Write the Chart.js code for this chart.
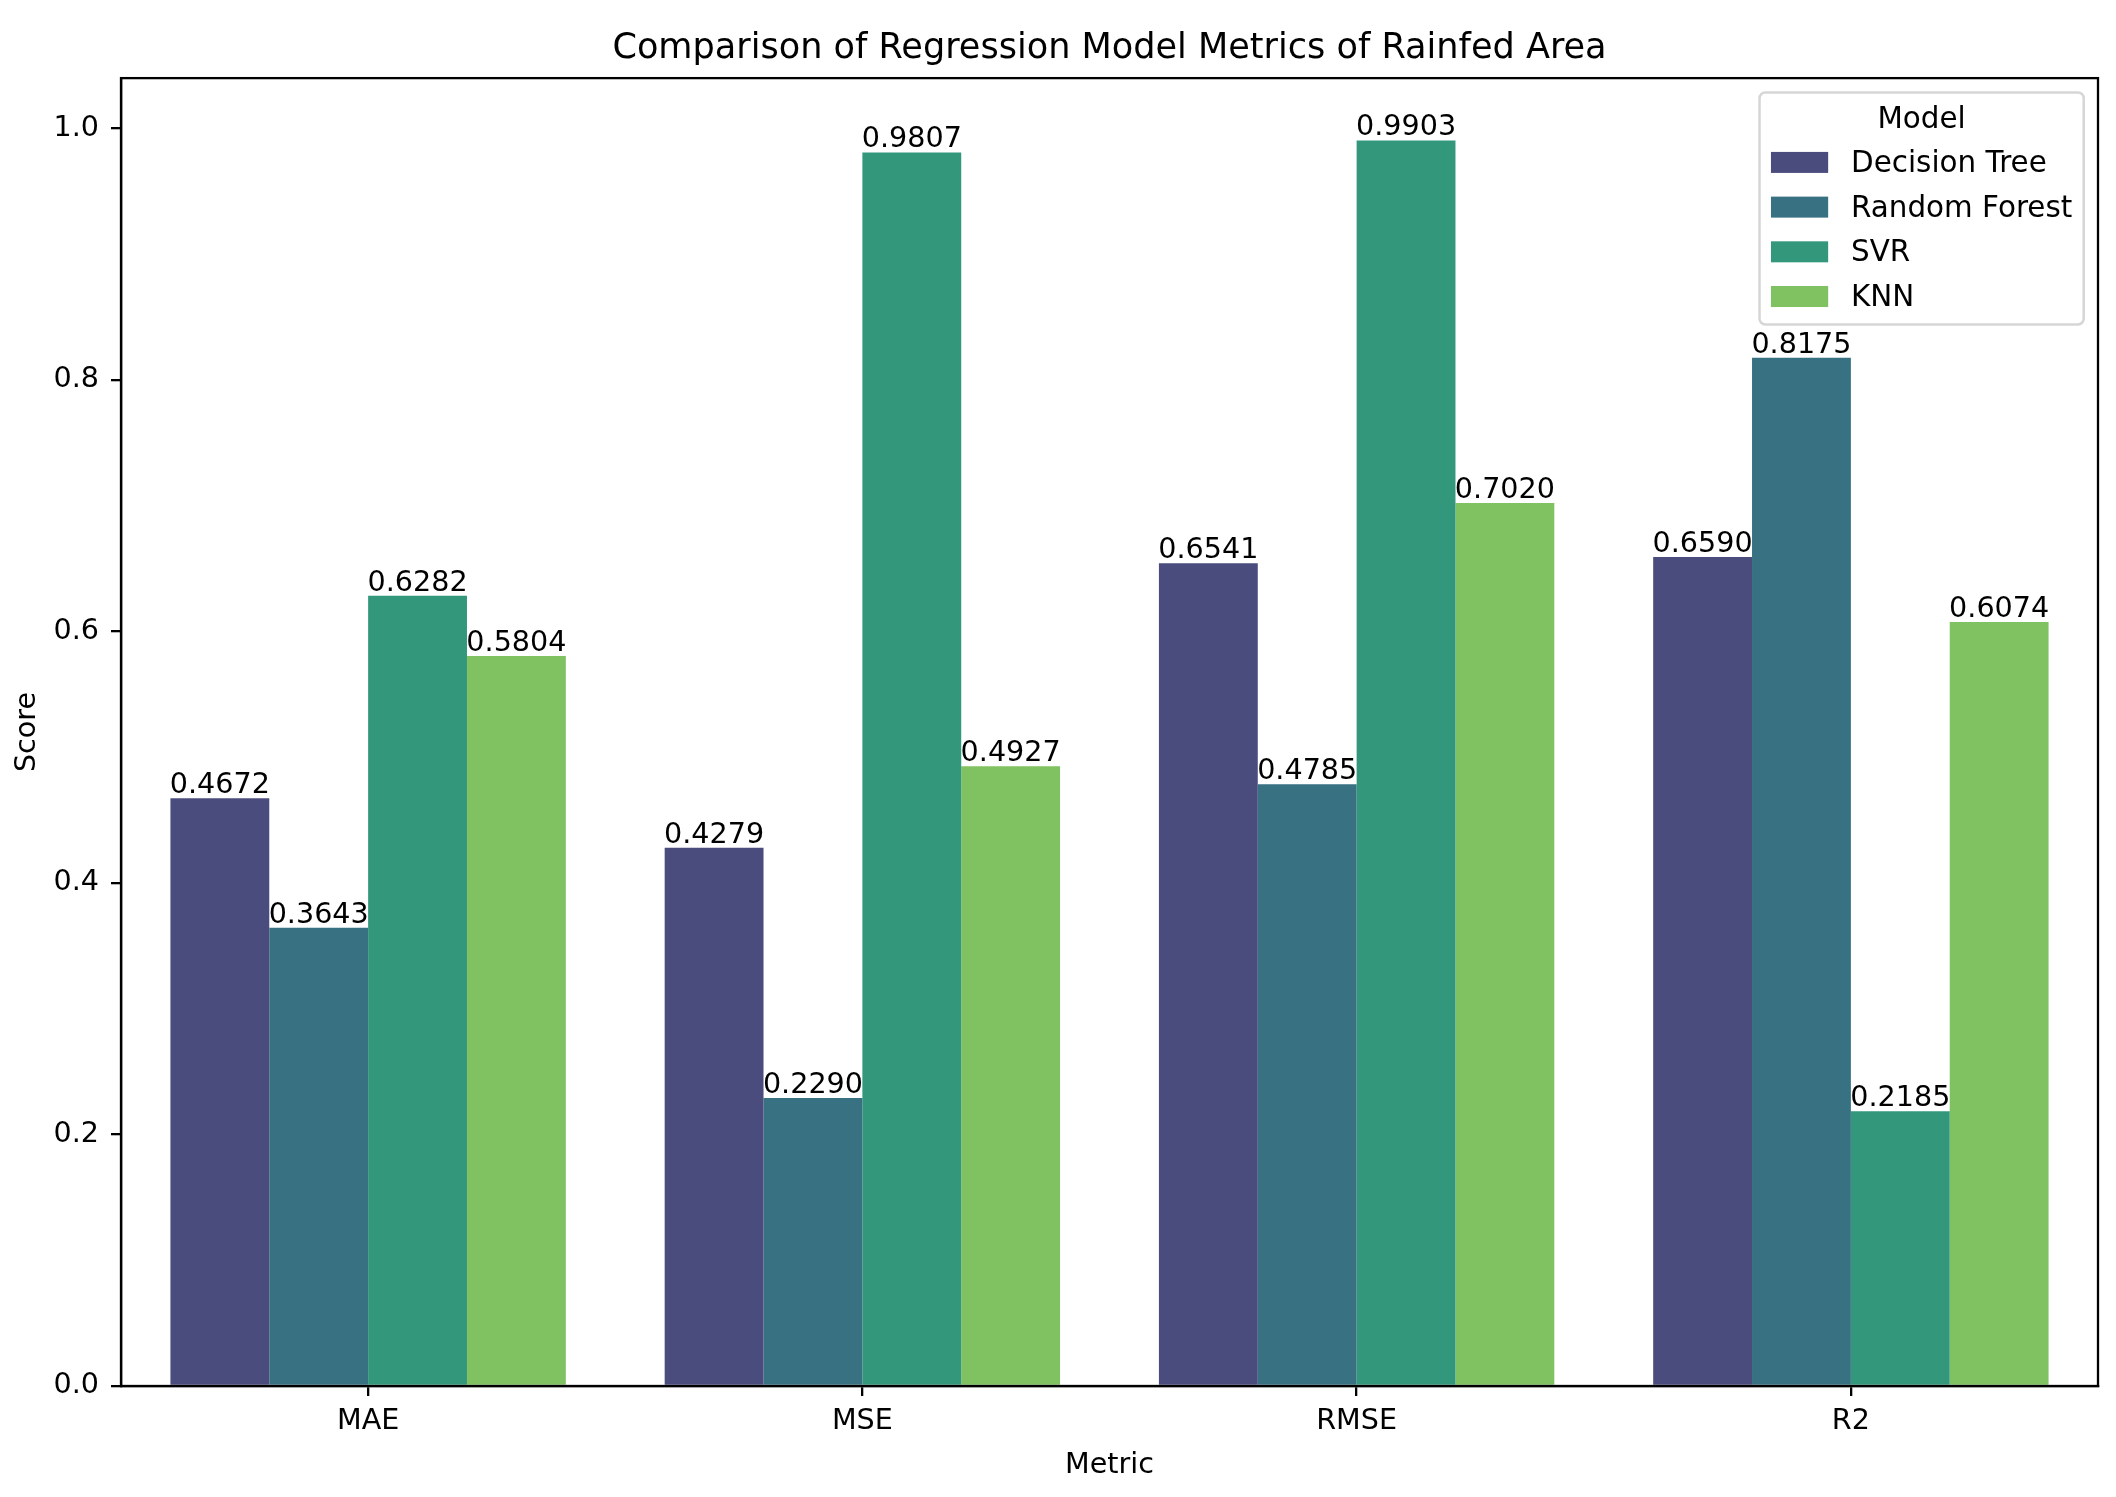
<!DOCTYPE html>
<html>
<head>
<meta charset="utf-8">
<script src="https://cdn.jsdelivr.net/npm/chart.js@4/dist/chart.umd.min.js"></script>
<style>
  html, body { margin: 0; padding: 0; background: #fff; }
  #wrap { width: 2116px; height: 1497px; }
</style>
</head>
<body>
<div id="wrap"><canvas id="c" width="2116" height="1497"></canvas></div>
<script>
const chartTitle = 'Comparison of Regression Model Metrics of Rainfed Area';
const xTitle = 'Metric';
const yTitle = 'Score';
const legendTitle = 'Model';
const categories = ['MAE', 'MSE', 'RMSE', 'R2'];
const models = ['Decision Tree', 'Random Forest', 'SVR', 'KNN'];
const decisionTree = [0.4672, 0.4279, 0.6541, 0.6590];
const randomForest = [0.3643, 0.2290, 0.4785, 0.8175];
const svr = [0.6282, 0.9807, 0.9903, 0.2185];
const knn = [0.5804, 0.4927, 0.7020, 0.6074];
const yTicks = [0.0, 0.2, 0.4, 0.6, 0.8, 1.0];
const yMin = 0;
const yMax = 1.0398;
const modelColors = ['#4a4c7e', '#377182', '#33977c', '#80c161'];

const FONT = "'DejaVu Sans', 'Liberation Sans', sans-serif";
const FS = 28.6;
const LFS = 29.4;
const LW = 2.3;

const seriesValues = [decisionTree, randomForest, svr, knn];

const spinesPlugin = {
  id: 'spines',
  afterDatasetsDraw(chart) {
    const {ctx, chartArea: a} = chart;
    ctx.save();
    ctx.strokeStyle = '#000';
    ctx.lineWidth = LW;
    ctx.strokeRect(a.left, a.top, a.right - a.left, a.bottom - a.top);
    ctx.restore();
  }
};

const barLabelPlugin = {
  id: 'barLabels',
  afterDatasetsDraw(chart) {
    const {ctx} = chart;
    ctx.save();
    ctx.font = FS + 'px ' + FONT;
    ctx.fillStyle = '#000';
    ctx.textAlign = 'center';
    ctx.textBaseline = 'alphabetic';
    chart.data.datasets.forEach((ds, i) => {
      const meta = chart.getDatasetMeta(i);
      meta.data.forEach((bar, j) => {
        ctx.fillText(Number(ds.data[j]).toFixed(4), bar.x, bar.y - 5);
      });
    });
    ctx.restore();
  }
};

const legendPlugin = {
  id: 'boxLegend',
  afterDraw(chart) {
    const {ctx, chartArea: a} = chart;
    const bp = 0.4 * FS, hl = 2.0 * FS, htp = 0.8 * FS, pad = 0.5 * FS;
    ctx.save();
    ctx.font = LFS + 'px ' + FONT;
    let maxW = ctx.measureText(legendTitle).width;
    chart.data.datasets.forEach(ds => { maxW = Math.max(maxW, ctx.measureText(ds.label).width); });
    const w = 2 * bp + hl + htp + maxW;
    const right = a.right - pad;
    const top = a.top + pad;
    const left = right - w;
    const rowH = 44.7;
    const h = 232;
    const r = 0.2 * FS;
    ctx.beginPath();
    ctx.moveTo(left + r, top);
    ctx.lineTo(right - r, top);
    ctx.arcTo(right, top, right, top + r, r);
    ctx.lineTo(right, top + h - r);
    ctx.arcTo(right, top + h, right - r, top + h, r);
    ctx.lineTo(left + r, top + h);
    ctx.arcTo(left, top + h, left, top + h - r, r);
    ctx.lineTo(left, top + r);
    ctx.arcTo(left, top, left + r, top, r);
    ctx.closePath();
    ctx.fillStyle = 'rgba(255,255,255,0.8)';
    ctx.fill();
    ctx.strokeStyle = '#d6d6d6';
    ctx.lineWidth = 2.5;
    ctx.stroke();
    ctx.fillStyle = '#000';
    ctx.textBaseline = 'middle';
    ctx.textAlign = 'center';
    ctx.fillText(legendTitle, left + w / 2, top + 28);
    ctx.textAlign = 'left';
    chart.data.datasets.forEach((ds, i) => {
      const cy = top + 70 + i * rowH;
      ctx.fillStyle = ds.backgroundColor;
      ctx.fillRect(left + bp, cy - 10.5, hl, 21);
      ctx.fillStyle = '#000';
      ctx.fillText(ds.label, left + bp + hl + htp, cy + 2);
    });
    ctx.restore();
  }
};

new Chart(document.getElementById('c'), {
  type: 'bar',
  data: {
    labels: categories,
    datasets: models.map((m, i) => ({
      label: m,
      data: seriesValues[i],
      backgroundColor: modelColors[i],
      borderWidth: 0,
      categoryPercentage: 0.8,
      barPercentage: 1.0
    }))
  },
  options: {
    responsive: false,
    animation: false,
    devicePixelRatio: 1,
    layout: { padding: { top: 0, right: 18, left: 0, bottom: 0 } },
    plugins: {
      legend: { display: false },
      tooltip: { enabled: false },
      title: {
        display: true,
        text: chartTitle,
        fullSize: false,
        color: '#000',
        font: { family: FONT, size: 35.1, weight: 'normal' },
        padding: { top: 28, bottom: 8 }
      }
    },
    scales: {
      x: {
        offset: true,
        grid: { offset: false, drawOnChartArea: false, drawTicks: true, tickLength: 10, color: '#000', lineWidth: LW },
        border: { display: true, color: '#000', width: LW },
        ticks: { color: '#000', font: { family: FONT, size: FS }, padding: 8, maxRotation: 0 },
        title: { display: true, text: xTitle, color: '#000', font: { family: FONT, size: FS }, padding: { top: 0, bottom: 14 } },
        afterFit(scale) { scale.height = 111; }
      },
      y: {
        min: yMin,
        max: yMax,
        afterBuildTicks(scale) { scale.ticks = yTicks.map(v => ({ value: v })); },
        grid: { drawOnChartArea: false, drawTicks: true, tickLength: 10, color: '#000', lineWidth: LW },
        border: { display: true, color: '#000', width: LW },
        ticks: { color: '#000', font: { family: FONT, size: FS }, padding: 12, callback: v => Number(v).toFixed(1) },
        title: { display: true, text: yTitle, color: '#000', font: { family: FONT, size: FS }, padding: { top: 10, bottom: 0 } },
        afterFit(scale) { scale.width = 121; }
      }
    }
  },
  plugins: [spinesPlugin, barLabelPlugin, legendPlugin]
});
</script>
</body>
</html>
